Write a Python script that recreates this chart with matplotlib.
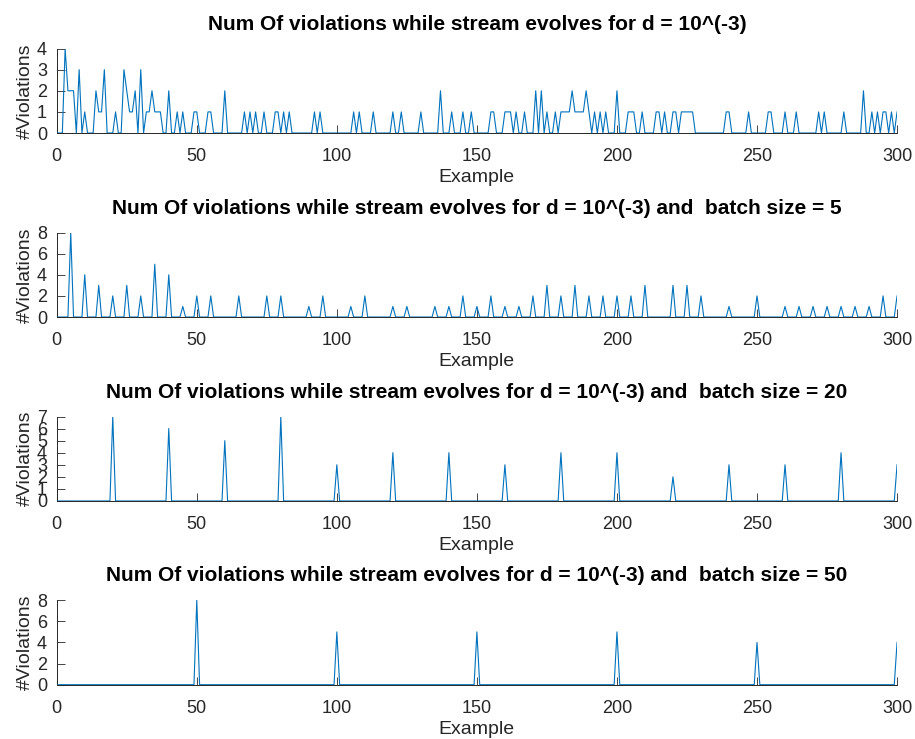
"""Violations per example for several batch sizes (MATLAB-style stacked panels)."""

import numpy as np
import matplotlib
matplotlib.use("Agg")
import matplotlib.pyplot as plt

plt.rcParams["font.family"] = ["Liberation Sans", "DejaVu Sans"]

INK = "#262626"
BLUE = "#0072BD"
N_EXAMPLES = 300

# --- data: (example index, #violations) for every non-zero point ---------------
# d = 10^(-3), no batching
P1_X = [3, 4, 5, 6, 8, 10, 14, 15, 16, 17, 21, 24, 25, 26, 27, 28, 30, 32, 33, 34,
        35, 36, 37, 40, 43, 45, 49, 50, 54, 55, 60, 67, 69, 71, 74, 78, 79, 81, 83,
        92, 94, 106, 108, 113, 120, 123, 130, 137, 141, 145, 148, 155, 156, 160,
        161, 162, 164, 167, 171, 173, 175, 178, 180, 181, 182, 183, 184, 185, 186,
        187, 188, 189, 190, 192, 194, 196, 200, 204, 205, 206, 209, 214, 215, 217,
        220, 221, 223, 224, 225, 226, 227, 239, 240, 247, 254, 255, 260, 264, 272,
        274, 281, 288, 291, 293, 295, 296, 298, 300]
P1_V = [4, 2, 2, 2, 3, 1, 2, 1, 1, 3, 1, 3, 2, 1, 1, 2, 3, 1, 1, 2,
        1, 1, 1, 2, 1, 1, 1, 1, 1, 1, 2, 1, 1, 1, 1, 1, 1, 1, 1,
        1, 1, 1, 1, 1, 1, 1, 1, 2, 1, 1, 1, 1, 1, 1,
        1, 1, 1, 1, 2, 2, 1, 1, 1, 1, 1, 1, 2, 1, 1,
        1, 1, 2, 1, 1, 1, 1, 2, 1, 1, 1, 1, 1, 1, 1,
        1, 1, 1, 1, 1, 1, 1, 1, 1, 1, 1, 1, 1, 1, 1,
        1, 1, 2, 1, 1, 1, 1, 1, 1]

# batch size = 5
P2_X = [5, 10, 15, 20, 25, 30, 35, 40, 45, 50, 55, 65, 75, 80, 90, 95, 105, 110,
        120, 125, 135, 140, 145, 150, 155, 160, 165, 170, 175, 180, 185, 190, 195,
        200, 205, 210, 220, 225, 230, 240, 250, 260, 265, 270, 275, 280, 285, 290,
        295, 300]
P2_V = [8, 4, 3, 2, 3, 2, 5, 4, 1, 2, 2, 2, 2, 2, 1, 2, 1, 2,
        1, 1, 1, 1, 2, 1, 2, 1, 1, 2, 3, 2, 3, 2, 2,
        2, 2, 3, 3, 3, 2, 1, 2, 1, 1, 1, 1, 1, 1, 1,
        2, 2]

# batch size = 20
P3_X = [20, 40, 60, 80, 100, 120, 140, 160, 180, 200, 220, 240, 260, 280, 300]
P3_V = [7, 6, 5, 7, 3, 4, 4, 3, 4, 4, 2, 3, 3, 4, 3]

# batch size = 50
P4_X = [50, 100, 150, 200, 250, 300]
P4_V = [8, 5, 5, 5, 4, 4]

TITLES = [
    "Num Of violations while stream evolves for d = 10^(-3)",
    "Num Of violations while stream evolves for d = 10^(-3) and  batch size = 5",
    "Num Of violations while stream evolves for d = 10^(-3) and  batch size = 20",
    "Num Of violations while stream evolves for d = 10^(-3) and  batch size = 50",
]
Y_MAX = [4, 8, 7, 8]
Y_TICKS = [[0, 1, 2, 3, 4], [0, 2, 4, 6, 8], list(range(8)), [0, 2, 4, 6, 8]]
X_TICKS = [0, 50, 100, 150, 200, 250, 300]


def series(xs, vs):
    y = np.zeros(N_EXAMPLES + 1)
    y[xs] = vs
    return y


def style(ax, title, ymax, yticks):
    ax.set_xlim(0, N_EXAMPLES)
    ax.set_ylim(0, ymax)
    ax.set_xticks(X_TICKS)
    ax.set_yticks(yticks)
    ax.set_title(title, fontsize=15, fontweight="bold", color="black", pad=13.5)
    ax.set_xlabel("Example", fontsize=14, color=INK, labelpad=3)
    ax.set_ylabel("#Violations", fontsize=14, color=INK, labelpad=2)
    ax.tick_params(direction="in", length=6, width=0.6, colors=INK,
                   labelsize=13, pad=7)
    ax.tick_params(axis="x", pad=11)
    for s in ("top", "right"):
        ax.spines[s].set_visible(False)
    for s in ("left", "bottom"):
        ax.spines[s].set_color(INK)
        ax.spines[s].set_linewidth(0.7)


fig = plt.figure(figsize=(9.15, 7.39), dpi=100)
left, width, height = 0.062, 0.9184, 0.1143
bottoms = [0.8200, 0.5710, 0.3221, 0.0735]
panels = [(P1_X, P1_V), (P2_X, P2_V), (P3_X, P3_V), (P4_X, P4_V)]
x = np.arange(N_EXAMPLES + 1)

for i, (xs, vs) in enumerate(panels):
    ax = fig.add_axes([left, bottoms[i], width, height])
    ax.plot(x, series(xs, vs), color=BLUE, linewidth=0.8, zorder=3)
    style(ax, TITLES[i], Y_MAX[i], Y_TICKS[i])

fig.savefig("out.png", dpi=100, facecolor="white")
